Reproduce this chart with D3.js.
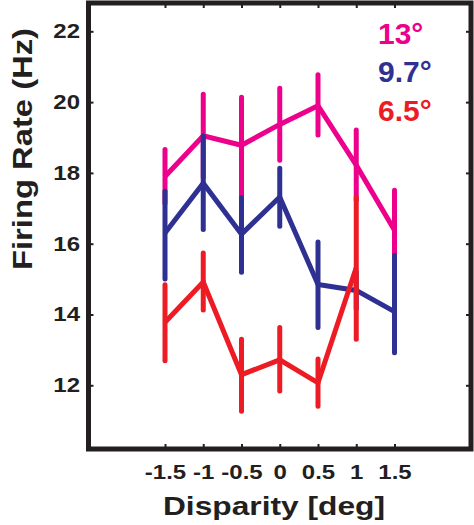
<!DOCTYPE html>
<html>
<head>
<meta charset="utf-8">
<script src="https://cdn.jsdelivr.net/npm/d3@7"></script>
<style>
	body { margin: 0; background: #fff; }
	svg text { font-family: Helvetica, Arial, "Liberation Sans", sans-serif; font-weight: bold; fill: #231f20; }
</style>
</head>
<body>
<div id="chart"></div>
<script>
'use strict';

// values
const disparity = [-1.5, -1, -0.5, 0, 0.5, 1, 1.5];
const xTicks = [-1.5, -1, -0.5, 0, 0.5, 1, 1.5];
const yTicks = [12, 14, 16, 18, 20, 22];

const labels = ["13°", "9.7°", "6.5°"];
const colors = ["#ec008c", "#2e3192", "#ed1c24"];

// 13 deg
const pinkMean = [17.90, 19.05, 18.78, 19.37, 19.90, 18.22, 16.38];
const pinkHi   = [18.66, 20.22, 20.14, 20.39, 20.77, 19.21, 17.51];
const pinkLo   = [17.14, 17.88, 17.30, 18.36, 19.07, 17.23, 15.30];
// 9.7 deg
const blueMean = [16.30, 17.71, 16.27, 17.32, 14.85, 14.68, 14.08];
const blueHi   = [17.48, 19.04, 17.30, 18.13, 16.05, 15.20, 15.67];
const blueLo   = [15.00, 16.40, 15.19, 16.49, 13.63, 14.16, 12.92];
// 6.5 deg (no point at 1.5)
const redMean  = [13.78, 14.92, 12.30, 12.72, 12.07, 15.33];
const redHi    = [14.84, 15.74, 13.30, 13.63, 12.74, 17.32];
const redLo    = [12.69, 14.13, 11.27, 11.84, 11.41, 13.30];

const width = 474, height = 525;
const ink = "#231f20";

const series = [
	{ mean: pinkMean, hi: pinkHi, lo: pinkLo },
	{ mean: blueMean, hi: blueHi, lo: blueLo },
	{ mean: redMean,  hi: redHi,  lo: redLo }
].map((s, k) => ({
	label: labels[k],
	color: colors[k],
	points: s.mean.map((m, i) => ({ x: disparity[i], m: m, hi: s.hi[i], lo: s.lo[i] }))
}));

const svg = d3.select("#chart")
	.append("svg")
		.attr("width", width)
		.attr("height", height);

const xScale = d3.scaleLinear()
	.domain([-2.5, 2.5])
	.range([88.5, 471]);

const yScale = d3.scaleLinear()
	.domain([10.2, 22.8])
	.range([449, 3]);

const x0 = xScale.range()[0], x1 = xScale.range()[1];
const y0 = yScale.range()[0], y1 = yScale.range()[1];

function styleAxis(g) {
	g.attr("font-size", null).attr("font-family", null).style("color", ink);
	g.select(".domain").remove();
	g.selectAll(".tick line").attr("stroke-width", 2);
}

// axes, ticks pointing inward
svg.append("g")
	.attr("transform", `translate(${x0},0)`)
	.call(d3.axisLeft(yScale).tickValues(yTicks).tickSize(-5).tickFormat(d => String(d)))
	.call(styleAxis)
	.selectAll("text")
		.attr("x", 0)
		.attr("transform", "translate(-8.5,0) scale(1.2,1)")
		.style("font-size", "20px");

svg.append("g")
	.attr("transform", `translate(0,${y0})`)
	.call(d3.axisBottom(xScale).tickValues(xTicks).tickSize(-5).tickFormat(d => String(d)))
	.call(styleAxis)
	.selectAll("text")
		.attr("y", 30)
		.attr("dy", null)
		.attr("transform", "scale(1.2,1)")
		.style("font-size", "20px");

svg.append("g")
	.attr("transform", `translate(0,${y1})`)
	.call(d3.axisTop(xScale).tickValues(xTicks).tickSize(-5).tickFormat(() => ""))
	.call(styleAxis);

svg.append("g")
	.attr("transform", `translate(${x1},0)`)
	.call(d3.axisRight(yScale).tickValues(yTicks).tickSize(-5).tickFormat(() => ""))
	.call(styleAxis);

// frame
svg.append("rect")
	.attr("x", x0)
	.attr("y", y1)
	.attr("width", x1 - x0)
	.attr("height", y0 - y1)
	.attr("fill", "none")
	.attr("stroke", ink)
	.attr("stroke-width", 5);

// data
const lineGenerator = d3.line()
	.x(d => xScale(d.x))
	.y(d => yScale(d.m));

series.forEach(s => {
	const g = svg.append("g");
	g.selectAll("line.err")
		.data(s.points)
		.join("line")
			.attr("class", "err")
			.attr("x1", d => xScale(d.x))
			.attr("x2", d => xScale(d.x))
			.attr("y1", d => yScale(d.lo))
			.attr("y2", d => yScale(d.hi))
			.attr("stroke", s.color)
			.attr("stroke-width", 5)
			.attr("stroke-linecap", "round");
	g.append("path")
		.datum(s.points)
		.attr("d", lineGenerator)
		.attr("fill", "none")
		.attr("stroke", s.color)
		.attr("stroke-width", 5);
});

// legend
svg.append("g")
	.selectAll("text")
	.data(series)
	.join("text")
		.attr("x", 378)
		.attr("y", (d, i) => 43.5 + i * 38.7)
		.style("font-size", "30px")
		.style("fill", d => d.color)
		.text(d => d.label);

// axis titles
svg.append("text")
	.attr("transform", `translate(274,515) scale(1.22,1)`)
	.attr("text-anchor", "middle")
	.style("font-size", "26px")
	.text("Disparity [deg]");

svg.append("text")
	.attr("transform", `translate(32,149) rotate(-90) scale(1.17,1)`)
	.attr("text-anchor", "middle")
	.style("font-size", "28px")
	.text("Firing Rate (Hz)");
</script>
</body>
</html>
